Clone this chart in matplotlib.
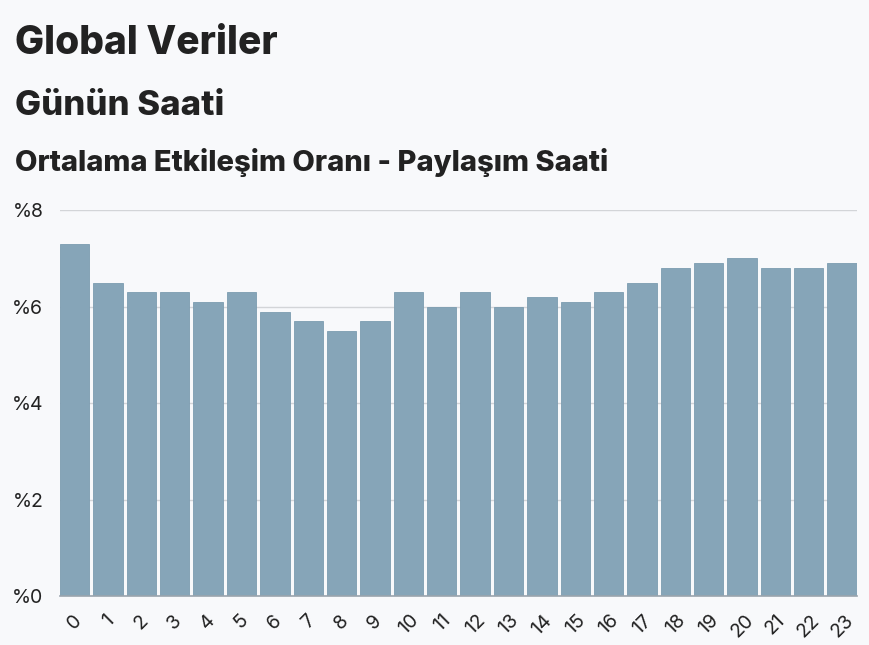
import matplotlib.pyplot as plt
import matplotlib as mpl

mpl.rcParams['font.family'] = ['Inter', 'DejaVu Sans']

# hour of day and average engagement rate (%)
hours = list(range(24))
rates = [7.3, 6.5, 6.3, 6.3, 6.1, 6.3, 5.9, 5.7, 5.5, 5.7, 6.3, 6.0,
         6.3, 6.0, 6.2, 6.1, 6.3, 6.5, 6.8, 6.9, 7.0, 6.8, 6.8, 6.9]
y_ticks = [0, 2, 4, 6, 8]
y_labels = ['%0', '%2', '%4', '%6', '%8']

bg = '#f8f9fb'
bar_color = '#86a5b8'

fig = plt.figure(figsize=(8.69, 6.45), dpi=100, facecolor=bg)
ax = fig.add_axes([0.069, 0.076, 0.917, 0.598], facecolor=bg)

ax.bar(hours, rates, width=0.88, color=bar_color, edgecolor='#7c9cb0', linewidth=0.6, zorder=3)

ax.set_xlim(-0.44, 23.44)
ax.set_ylim(0, 8)
ax.set_yticks(y_ticks)
ax.set_yticklabels(y_labels)
ax.set_xticks(hours)
ax.set_xticklabels([str(h) for h in hours], rotation=45, ha='center')

ax.grid(axis='y', color='#d3d5d8', linewidth=1, zorder=0)
for s in ['top', 'right', 'left']:
    ax.spines[s].set_visible(False)
ax.spines['bottom'].set_color('#9aa4ad')
ax.spines['bottom'].set_linewidth(1.2)
ax.spines['bottom'].set_zorder(4)

ax.tick_params(axis='y', length=0, pad=12, labelsize=14, labelcolor='#222222')
ax.tick_params(axis='x', length=0, pad=11, labelsize=14, labelcolor='#222222')

fig.text(0.017, 0.932, 'Global Veriler', fontsize=28, fontweight='heavy', color='#222222', va='center')
fig.text(0.017, 0.836, 'Günün Saati', fontsize=25, fontweight='heavy', color='#222222', va='center')
fig.text(0.017, 0.748, 'Ortalama Etkileşim Oranı - Paylaşım Saati', fontsize=21, fontweight='heavy',
         color='#222222', va='center')

plt.savefig('out.png', dpi=100, facecolor=bg)
plt.close()
